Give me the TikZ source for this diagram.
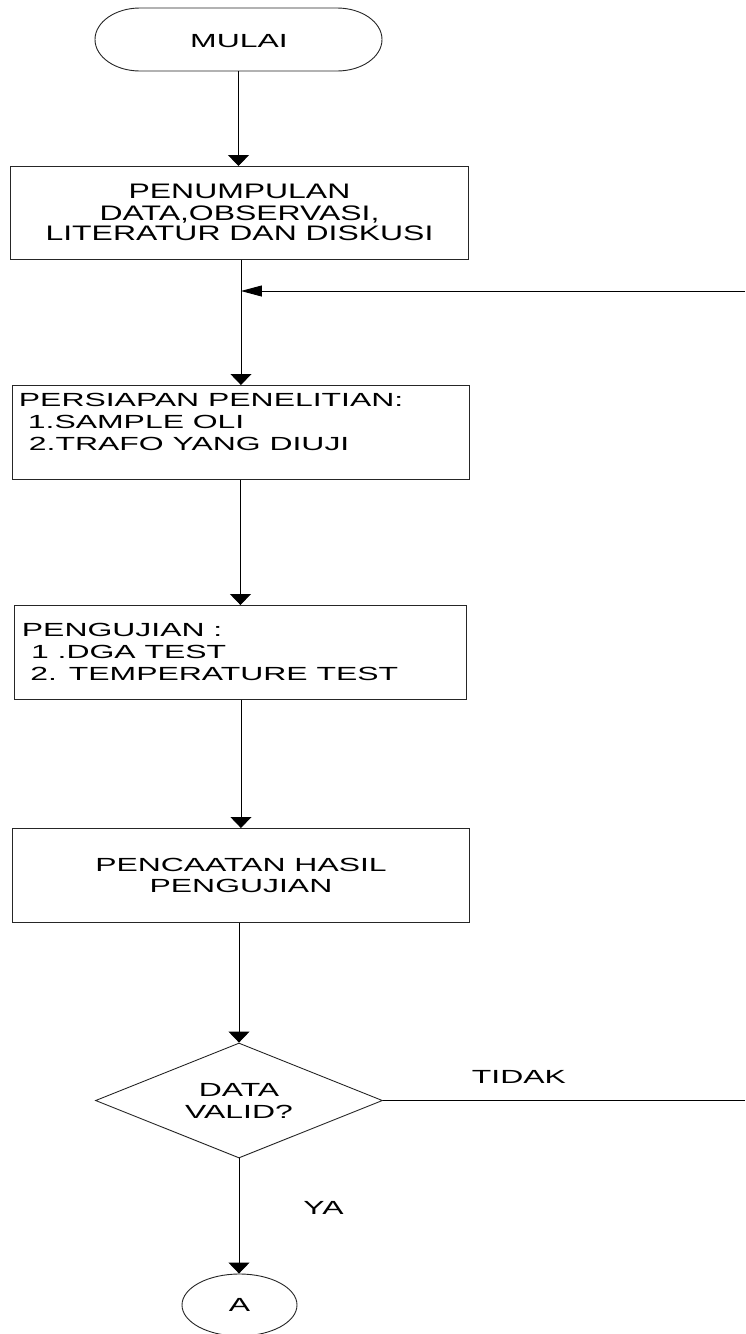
\documentclass[tikz,border=0pt]{standalone}
\usepackage{fontspec}
\setmainfont{Liberation Sans}
\newfontfamily\txtf[FakeStretch=1.68]{Liberation Sans}
\newfontfamily\txtb[FakeStretch=1.52]{Liberation Sans}
\usetikzlibrary{arrows.meta,shapes.geometric}
\begin{document}
\begin{tikzpicture}[x=1pt,y=-1pt,
  line width=0.9pt,
  procbox/.style={draw=black!85, rectangle, inner sep=0pt, anchor=north west},
  lbl/.style={inner sep=0pt, font={\txtf\fontsize{19}{21}\selectfont}},
  lblb/.style={inner sep=0pt, font={\txtb\fontsize{21}{21}\selectfont}},
  arrv/.style={draw=black, -{Triangle[length=11pt,width=21pt]}},
  arrh/.style={draw=black, -{Triangle[length=21pt,width=11pt]}},
  plain/.style={draw=black}]
\useasboundingbox (0,0) rectangle (745,1334);
\clip (0,0) rectangle (745,1334);
\fill[white] (0,0) rectangle (745,1334);

% start terminal
\node[rectangle, inner sep=0pt, minimum width=287pt, minimum height=63pt] (start) at (238.5,39.5) {};
\draw[draw=black!85] (140,8) -- (337,8)
  .. controls (361.85,8) and (382,22.1) .. (382,39.5)
  .. controls (382,56.9) and (361.85,71) .. (337,71)
  -- (140,71)
  .. controls (115.15,71) and (95,56.9) .. (95,39.5)
  .. controls (95,22.1) and (115.15,8) .. (140,8) -- cycle;
\node[lbl, anchor=base] (tstart) at (239,47) {MULAI};

% box 1
\node[procbox, minimum width=458.5pt, minimum height=93pt] (b1) at (9.5,166) {};
\node[lblb, anchor=base] (t1a) at (239.5,198) {PENUMPULAN};
\node[lblb, anchor=base] (t1b) at (239.5,220) {DATA,OBSERVASI,};
\node[lblb, anchor=base] (t1c) at (239.5,240) {LITERATUR DAN DISKUSI};

% box 2
\node[procbox, minimum width=457pt, minimum height=94pt] (b2) at (12,385) {};
\node[lbl, anchor=base west] (t2a) at (18.5,406) {PERSIAPAN PENELITIAN:};
\node[lbl, anchor=base west] (t2b) at (27.5,428) {1.SAMPLE OLI};
\node[lbl, anchor=base west] (t2c) at (28.5,450) {2.TRAFO YANG DIUJI};

% box 3
\node[procbox, minimum width=452pt, minimum height=94pt] (b3) at (14,605) {};
\node[lbl, anchor=base west] (t3a) at (21.5,636) {PENGUJIAN :};
\node[lbl, anchor=base west] (t3b) at (30.7,658) {1 .DGA TEST};
\node[lbl, anchor=base west] (t3c) at (30,680) {2. TEMPERATURE TEST};

% box 4
\node[procbox, minimum width=457pt, minimum height=94pt] (b4) at (12,828) {};
\node[lbl, anchor=base] (t4a) at (241,871) {PENCAATAN HASIL};
\node[lbl, anchor=base] (t4b) at (241,892) {PENGUJIAN};

% decision
\node[diamond, draw=black!85, inner sep=0pt, aspect=2.5, minimum width=287pt, minimum height=115pt] (dec) at (239,1100.5) {};
\node[lbl, anchor=base] (tda) at (239,1096) {DATA};
\node[lbl, anchor=base] (tdb) at (239,1118) {VALID?};

% connector A
\node[ellipse, draw=black!85, inner sep=0pt, minimum width=115pt, minimum height=62pt] (conA) at (239.5,1305) {};
\node[lbl, anchor=base] (tA) at (239.5,1311) {A};

% labels
\node[lbl, anchor=base west] (ttidak) at (471.5,1083) {TIDAK};
\node[lbl, anchor=base west] (tya) at (303,1214) {YA};

% free ends
\coordinate (fb) at (745,291);
\coordinate (fr) at (745,1100.5);

% connectors
\draw[arrv] (start.south) -- (start.south |- b1.north);
\draw[arrv] (b1.south -| b2.north) -- (b2.north);
\draw[arrh] (fb) -- (fb -| b2.north);
\draw[arrv] (b2.south -| b3.north) -- (b3.north);
\draw[arrv] (b3.south -| b4.north) -- (b4.north);
\draw[arrv] (b4.south -| dec.north) -- (dec.north);
\draw[plain] (dec.east) -- (fr);
\draw[arrv] (dec.south) -- (dec.south |- conA.north);
\end{tikzpicture}
\end{document}
